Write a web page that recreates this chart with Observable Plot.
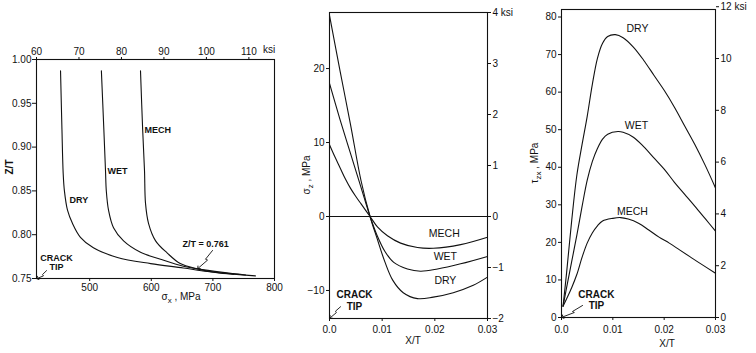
<!DOCTYPE html>
<html><head><meta charset="utf-8">
<script src="https://cdn.jsdelivr.net/npm/d3@7"></script>
<script src="https://cdn.jsdelivr.net/npm/@observablehq/plot@0.6"></script>
<style>
body{margin:0;background:#fff;}
#wrap{position:relative;width:756px;height:353px;overflow:hidden;font-family:"Liberation Sans",Arial,sans-serif;color:#111;}
.p{position:absolute;top:0;}
.lab{position:absolute;font-size:10px;white-space:nowrap;transform:translate(-50%,-50%);line-height:1;}
.rot{transform:translate(-50%,-50%) rotate(-90deg);}
.lab sub{font-size:8px;vertical-align:-3px;line-height:0;}
</style></head><body><div id="wrap"></div>
<script>
const KSI = 6.89476;
const seriesNames = ["DRY", "WET", "MECH"];

// Panel 1: Z/T versus sigma_x (MPa)
const p1Dry  = [[452.7,0.987],[455,0.92],[457,0.87],[459,0.85],[464,0.828],[472,0.813],[485,0.797],[506,0.785],[545,0.774],[599,0.767],[652,0.762],[691,0.758],[734,0.755],[769,0.753]];
const p1Wet  = [[519,0.987],[523,0.92],[525.7,0.873],[527,0.85],[530.6,0.828],[538.7,0.808],[555,0.793],[582.5,0.78],[615,0.772],[652,0.764],[675,0.761],[716,0.757],[753,0.754]];
const p1Mech = [[582.5,0.987],[586,0.92],[589,0.873],[590.6,0.836],[595.5,0.813],[607,0.793],[626,0.779],[647,0.767],[675,0.761],[704,0.757],[734,0.755]];
const p1XTicks = [500, 600, 700, 800];
const p1KsiTicks = [60, 70, 80, 90, 100, 110];
const p1YTicks = [0.75, 0.80, 0.85, 0.90, 0.95, 1.00];
const p1Labels = [{t:"MECH",x:589,y:0.919},{t:"WET",x:529,y:0.873},{t:"DRY",x:467.3,y:0.840},{t:"Z/T = 0.761",x:650.7,y:0.789}];
const p1Crack = {x:446.2, y:0.7677};
const p1CrackArrow = [[430,0.759],[423.4,0.7545],[425,0.753],[415.3,0.7502]];
const p1ZArrow = [[699.4,0.782],[688,0.772],[691.3,0.771],[676.6,0.762]];

// Panel 2: sigma_z (MPa) versus X/T
const p2Dry  = [[0,27.2],[0.002,19.7],[0.004,12.4],[0.006,4.8],[0.0077,0],[0.009,-2.9],[0.0105,-6.1],[0.012,-8.6],[0.014,-10.3],[0.0167,-11.1],[0.0197,-10.9],[0.0235,-10.3],[0.0273,-9.3],[0.03,-8.2]];
const p2Wet  = [[0,18],[0.002,13.1],[0.004,8.5],[0.006,3.9],[0.0077,0],[0.009,-2.5],[0.0105,-4.7],[0.0122,-6.2],[0.0148,-7.1],[0.0173,-7.4],[0.0205,-7.1],[0.0249,-6.4],[0.03,-5.4]];
const p2Mech = [[0,9.7],[0.001,8.1],[0.002,6.6],[0.003,5.1],[0.004,3.8],[0.005,2.7],[0.006,1.7],[0.0077,0],[0.0091,-1.4],[0.011,-2.6],[0.0135,-3.6],[0.0167,-4.2],[0.0197,-4.3],[0.0249,-3.8],[0.03,-2.8]];
const p2YTicks = [-10, 0, 10, 20];
const p2KsiTicks = [-2, -1, 0, 1, 2, 3, 4];
const xTicks = [0, 0.01, 0.02, 0.03];
const p2Labels = [{t:"MECH",x:0.0218,y:-2.3},{t:"WET",x:0.022,y:-5.4},{t:"DRY",x:0.022,y:-8.65}];
const p2Crack = {x:0.00475, y:-11.3};
const p2CrackArrow = [[0.0021,-12.2],[0.00114,-12.8],[0.0013,-13.0],[0.0002,-13.65]];

// Panel 3: tau_zx (MPa) versus X/T
const p3Dry  = [[0.0003,3],[0.001,12],[0.002,26],[0.003,38],[0.004,46],[0.005,53.5],[0.006,62],[0.007,69],[0.008,73],[0.009,74.8],[0.0105,75.3],[0.012,74.5],[0.014,72],[0.016,68.5],[0.018,64.5],[0.02,60.5],[0.022,56],[0.024,51],[0.026,46],[0.028,40.5],[0.03,34.5]];
const p3Wet  = [[0.0003,3],[0.001,8],[0.002,15],[0.003,22],[0.004,29.5],[0.005,36.5],[0.006,41.5],[0.007,45],[0.008,47.5],[0.009,48.8],[0.011,49.5],[0.012,49.3],[0.014,48],[0.016,45.5],[0.018,42.5],[0.02,39.5],[0.022,36],[0.024,32.8],[0.026,29.6],[0.028,26.3],[0.03,23]];
const p3Mech = [[0.0003,3],[0.001,5],[0.002,8],[0.003,11.5],[0.004,16],[0.005,19.8],[0.006,22.5],[0.007,24.4],[0.008,25.7],[0.01,26.4],[0.0115,26.6],[0.013,26.2],[0.015,25.1],[0.017,23.3],[0.019,21.4],[0.021,19.8],[0.023,18],[0.025,16.2],[0.027,14.4],[0.03,11.8]];
const p3YTicks = [0, 10, 20, 30, 40, 50, 60, 70, 80];
const p3KsiTicks = [0, 2, 4, 6, 8, 10, 12];
const p3Labels = [{t:"DRY",x:0.0148,y:76.9},{t:"WET",x:0.0146,y:51.1},{t:"MECH",x:0.0138,y:28.2}];
const p3Crack = {x:0.0068, y:4.66};
const p3CrackArrow = [[0.0041,3.2],[0.00214,1.6],[0.0025,1.33],[0.0002,0.13]];

const FONT = '"Liberation Sans", Arial, sans-serif';
const INK = "#111";
const rows = (arrs) => arrs.flatMap((a, i) => a.map(([x, y]) => ({s: seriesNames[i], x, y})));
const pts = (a) => a.map(([x, y]) => ({x, y}));
const minus = (v) => String(v).replace("-", "\u2212");
const xFmt = (d) => d === 0 ? "0.0" : d.toFixed(2);
const baseStyle = {background: "none", fontFamily: FONT, fontSize: "10px", color: INK, overflow: "visible"};
const wrap = document.getElementById("wrap");

function place(svg, left) {
  svg.classList.add("p");
  svg.style.left = left + "px";
  wrap.appendChild(svg);
}
function label(html, x, y, extra) {
  const d = document.createElement("div");
  d.className = "lab" + (extra ? " " + extra : "");
  d.style.left = x + "px"; d.style.top = y + "px";
  d.innerHTML = html;
  wrap.appendChild(d);
  return d;
}

// Panel 1
place(Plot.plot({
  width: 290, height: 353, marginLeft: 36, marginRight: 16, marginTop: 59, marginBottom: 75,
  style: baseStyle,
  x: {domain: [60 * KSI, 800]},
  y: {domain: [0.75, 1.0]},
  marks: [
    Plot.frame({stroke: INK, strokeWidth: 1.1}),
    Plot.axisX({anchor: "bottom", ticks: p1XTicks, tickSize: 3, tickPadding: 2, label: null, tickFormat: d => String(d)}),
    Plot.axisX({anchor: "top", ticks: p1KsiTicks.map(k => k * KSI), tickSize: 3, tickPadding: 2, label: null, tickFormat: d => String(Math.round(d / KSI))}),
    Plot.axisY({ticks: p1YTicks, tickSize: 4, tickPadding: 1, label: null, tickFormat: d3.format(".2f")}),
    Plot.line(rows([p1Dry, p1Wet, p1Mech]), {x: "x", y: "y", z: "s", curve: "catmull-rom", stroke: INK, strokeWidth: 1.1}),
    Plot.text(p1Labels, {x: "x", y: "y", text: "t", textAnchor: "start", fontSize: 9, fontWeight: "bold", fill: INK}),
    Plot.text([p1Crack], {x: "x", y: "y", text: () => "CRACK\nTIP", fontSize: 9, fontWeight: "bold", lineHeight: 1.0, fill: INK}),
    Plot.line(pts(p1CrackArrow), {x: "x", y: "y", stroke: INK, strokeWidth: 0.9, markerEnd: "arrow"}),
    Plot.line(pts(p1ZArrow), {x: "x", y: "y", stroke: INK, strokeWidth: 0.9, markerEnd: "arrow"})
  ]
}), 0);

// Panel 2
place(Plot.plot({
  width: 225, height: 353, marginLeft: 39, marginRight: 28, marginTop: 12, marginBottom: 35,
  style: baseStyle,
  x: {domain: [0, 0.03]},
  y: {domain: [-2 * KSI, 4 * KSI]},
  marks: [
    Plot.frame({stroke: INK, strokeWidth: 1.1}),
    Plot.ruleY([0], {stroke: INK, strokeWidth: 1}),
    Plot.axisX({ticks: xTicks, tickSize: 3, tickPadding: 4, label: null, tickFormat: xFmt}),
    Plot.axisY({anchor: "left", ticks: p2YTicks, tickSize: 3, tickPadding: 2, label: null, tickFormat: minus}),
    Plot.axisY({anchor: "right", ticks: p2KsiTicks.map(k => k * KSI), tickSize: 3, tickPadding: 2, label: null,
      tickFormat: d => { const k = Math.round(d / KSI); return k === 4 ? "4 ksi" : minus(k); }}),
    Plot.line(rows([p2Dry, p2Wet, p2Mech]), {x: "x", y: "y", z: "s", curve: "catmull-rom", stroke: INK, strokeWidth: 1.1}),
    Plot.text(p2Labels, {x: "x", y: "y", text: "t", fontSize: 10.5, fill: INK}),
    Plot.text([p2Crack], {x: "x", y: "y", text: () => "CRACK\nTIP", fontSize: 10, fontWeight: "bold", lineHeight: 1.25, fill: INK}),
    Plot.line(pts(p2CrackArrow), {x: "x", y: "y", stroke: INK, strokeWidth: 0.9, markerEnd: "arrow"})
  ]
}), 290);

// Panel 3
place(Plot.plot({
  width: 241, height: 353, marginLeft: 46, marginRight: 41, marginTop: 9, marginBottom: 36,
  style: baseStyle,
  x: {domain: [0, 0.03]},
  y: {domain: [0, 82]},
  marks: [
    Plot.frame({stroke: INK, strokeWidth: 1.1}),
    Plot.axisX({ticks: xTicks, tickSize: 3, tickPadding: 5, label: null, tickFormat: xFmt}),
    Plot.axisY({anchor: "left", ticks: p3YTicks, tickSize: 3, tickPadding: 2, label: null, tickFormat: d => String(d)}),
    Plot.axisY({anchor: "right", ticks: p3KsiTicks.map(k => k * KSI), tickSize: 3, tickPadding: 2, label: null,
      tickFormat: d => { const k = Math.round(d / KSI); return k === 12 ? "12 ksi" : String(k); }}),
    Plot.line(rows([p3Dry, p3Wet, p3Mech]), {x: "x", y: "y", z: "s", curve: "catmull-rom", stroke: INK, strokeWidth: 1.1}),
    Plot.text(p3Labels, {x: "x", y: "y", text: "t", fontSize: 10.5, fill: INK}),
    Plot.text([p3Crack], {x: "x", y: "y", text: () => "CRACK\nTIP", fontSize: 10, fontWeight: "bold", lineHeight: 1.15, fill: INK}),
    Plot.line(pts(p3CrackArrow), {x: "x", y: "y", stroke: INK, strokeWidth: 0.9, markerEnd: "arrow"})
  ]
}), 515);

// Axis titles (HTML, for subscripts)
label("<b>Z/T</b>", 10, 167, "rot");
label("\u03c3<sub>x</sub> , MPa", 181, 297);
label("ksi", 269, 50);
label("\u03c3<sub>z</sub> , MPa", 307, 175, "rot");
label("X/T", 413, 341);
label("\u03c4<sub>zx</sub> , MPa", 535, 163, "rot");
label("X/T", 667, 344);
</script></body></html>
